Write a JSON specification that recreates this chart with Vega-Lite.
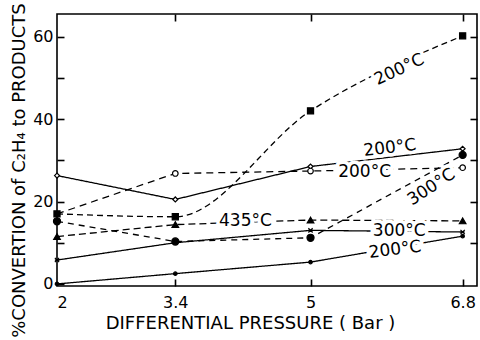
{
  "$schema": "https://vega.github.io/schema/vega-lite/v6.json",
  "width": 420,
  "height": 272,
  "autosize": {"type": "none"},
  "padding": {"left": 57, "top": 14, "right": 3, "bottom": 54},
  "config": {
    "view": {"stroke": "black", "strokeWidth": 1.6},
    "font": "DejaVu Sans"
  },
  "datasets": {
    "curves": [
      {"series": "200C dots", "P": 2, "C": 0},
      {"series": "200C dots", "P": 3.4, "C": 2.5},
      {"series": "200C dots", "P": 5, "C": 5.3},
      {"series": "200C dots", "P": 6.8, "C": 11.6},
      {"series": "300C stars", "P": 2, "C": 5.8},
      {"series": "300C stars", "P": 3.4, "C": 10},
      {"series": "300C stars", "P": 5, "C": 13},
      {"series": "300C stars", "P": 6.8, "C": 12.6},
      {"series": "200C diamonds", "P": 2, "C": 26.3},
      {"series": "200C diamonds", "P": 3.4, "C": 20.5},
      {"series": "200C diamonds", "P": 5, "C": 28.5},
      {"series": "200C diamonds", "P": 6.8, "C": 32.8},
      {"series": "200C circles", "P": 2, "C": 17},
      {"series": "200C circles", "P": 3.4, "C": 26.8},
      {"series": "200C circles", "P": 5, "C": 27.4},
      {"series": "200C circles", "P": 6.8, "C": 28.2},
      {"series": "200C squares", "P": 2, "C": 17},
      {"series": "200C squares", "P": 3.4, "C": 16.3},
      {"series": "200C squares", "P": 5, "C": 42},
      {"series": "200C squares", "P": 6.8, "C": 60.2},
      {"series": "435C triangles", "P": 2, "C": 11.5},
      {"series": "435C triangles", "P": 3.4, "C": 14.4},
      {"series": "435C triangles", "P": 5, "C": 15.5},
      {"series": "435C triangles", "P": 6.8, "C": 15.3},
      {"series": "300C filled", "P": 2, "C": 15.2},
      {"series": "300C filled", "P": 3.4, "C": 10.3},
      {"series": "300C filled", "P": 5, "C": 11.2},
      {"series": "300C filled", "P": 6.8, "C": 31.3}
    ],
    "labels": [
      {"series": "200C squares", "text": "200°C", "P": 6.05, "C": 52},
      {"series": "200C diamonds", "text": "200°C", "P": 5.94, "C": 33},
      {"series": "200C circles", "text": "200°C", "P": 5.64, "C": 27.2},
      {"series": "300C filled", "text": "300°C", "P": 6.43, "C": 23.5},
      {"series": "300C stars", "text": "300°C", "P": 6.05, "C": 12.9},
      {"series": "200C dots", "text": "200°C", "P": 6.0, "C": 8.3},
      {"series": "435C triangles", "text": "435°C", "P": 4.23, "C": 15.3}
    ]
  },
  "resolve": {"scale": {"x": "independent", "y": "independent"}, "axis": {"x": "independent", "y": "independent"}},
  "layer": [
    {
      "data": {"name": "curves"},
      "transform": [{"filter": "datum.series != '200C squares'"}],
      "mark": {"type": "line", "color": "black", "strokeWidth": 1.3},
      "encoding": {
        "x": {"field": "P", "type": "quantitative", "scale": {"domain": [2, 6.97], "nice": false, "zero": false},
              "axis": {"orient": "bottom", "values": [2, 3.4, 5, 6.8], "format": ".1~f", "domain": false, "grid": false, "ticks": false, "labelPadding": 8, "labelFont": "DejaVu Sans", "labelFontSize": 16, "labelColor": "black", "title": "DIFFERENTIAL PRESSURE ( Bar )", "titleFont": "DejaVu Sans", "titleFontSize": 18, "titleFontWeight": "normal", "titleColor": "black", "titlePadding": 4, "titleX": 193}},
        "y": {"field": "C", "type": "quantitative", "scale": {"domain": [-0.5, 65.5], "nice": false, "zero": false},
              "axis": {"orient": "left", "values": [0, 20, 40, 60], "domain": false, "grid": false, "ticks": false, "labelPadding": 4, "labelFont": "DejaVu Sans", "labelFontSize": 16, "labelColor": "black", "title": "%CONVERTION of C₂H₄ to PRODUCTS", "titleFont": "DejaVu Sans", "titleFontSize": 18, "titleFontWeight": "normal", "titleColor": "black", "titlePadding": 4, "titleY": 156}},
        "detail": {"field": "series"},
        "strokeDash": {"field": "series", "type": "nominal", "legend": null,
          "scale": {"domain": ["200C dots", "300C stars", "200C diamonds", "200C circles", "200C squares", "435C triangles", "300C filled"],
                    "range": [[1, 0], [1, 0], [1, 0], [7, 5], [6, 4], [7, 4], [6, 5]]}}
      }
    },
    {
      "data": {"name": "curves"},
      "transform": [{"filter": "datum.series == '200C squares'"}],
      "mark": {"type": "line", "interpolate": "monotone", "color": "black", "strokeWidth": 1.3, "strokeDash": [6, 4]},
      "encoding": {
        "x": {"field": "P", "type": "quantitative", "scale": {"domain": [2, 6.97], "nice": false, "zero": false}, "axis": null},
        "y": {"field": "C", "type": "quantitative", "scale": {"domain": [-0.5, 65.5], "nice": false, "zero": false}, "axis": null}
      }
    },
    {
      "data": {"name": "curves"},
      "transform": [{"filter": "!(datum.series == '200C circles' && datum.P == 2)"}],
      "mark": {"type": "point", "filled": true, "stroke": "black", "strokeWidth": 1.2, "opacity": 1},
      "encoding": {
        "x": {"field": "P", "type": "quantitative", "scale": {"domain": [2, 6.97], "nice": false, "zero": false},
              "axis": {"orient": "top", "offset": -272, "values": [3.4, 5, 6.8], "domainOpacity": 0, "gridOpacity": 0, "labelOpacity": 0, "tickSize": 7, "tickWidth": 1.6, "tickColor": "black", "title": null}},
        "y": {"field": "C", "type": "quantitative", "scale": {"domain": [-0.5, 65.5], "nice": false, "zero": false},
              "axis": {"orient": "right", "offset": -420, "values": [0, 10, 20, 30, 40, 50, 60], "domainOpacity": 0, "gridOpacity": 0, "labelOpacity": 0, "tickSize": 7, "tickWidth": 1.6, "tickColor": "black", "title": null}},
        "shape": {"field": "series", "type": "nominal", "legend": null,
          "scale": {"domain": ["200C dots", "300C stars", "200C diamonds", "200C circles", "200C squares", "435C triangles", "300C filled"],
                    "range": ["circle", "M-1,-1L1,1M1,-1L-1,1M-1,0L1,0", "diamond", "circle", "square", "triangle-up", "circle"]}},
        "fill": {"field": "series", "type": "nominal", "legend": null,
          "scale": {"domain": ["200C dots", "300C stars", "200C diamonds", "200C circles", "200C squares", "435C triangles", "300C filled"],
                    "range": ["black", "black", "white", "white", "black", "black", "black"]}},
        "size": {"field": "series", "type": "nominal", "legend": null,
          "scale": {"domain": ["200C dots", "300C stars", "200C diamonds", "200C circles", "200C squares", "435C triangles", "300C filled"],
                    "range": [12, 50, 35, 28, 14, 20, 28]}}
      }
    },
    {
      "data": {"name": "labels"},
      "transform": [{"filter": "datum.series == '200C squares'"}],
      "layer": [
        {"mark": {"type": "text", "angle": -25, "fontSize": 17, "stroke": "white", "strokeWidth": 7, "fill": "white"}},
        {"mark": {"type": "text", "angle": -25, "fontSize": 17, "fill": "black"}}
      ],
      "encoding": {
        "x": {"field": "P", "type": "quantitative", "scale": {"domain": [2, 6.97], "nice": false, "zero": false},
              "axis": {"orient": "bottom", "offset": -272, "values": [3.4, 5, 6.8], "domainOpacity": 0, "gridOpacity": 0, "labelOpacity": 0, "tickSize": 7, "tickWidth": 1.6, "tickColor": "black", "title": null}},
        "y": {"field": "C", "type": "quantitative", "scale": {"domain": [-0.5, 65.5], "nice": false, "zero": false},
              "axis": {"orient": "left", "offset": -420, "values": [10, 20, 30, 40, 50, 60], "domainOpacity": 0, "gridOpacity": 0, "labelOpacity": 0, "tickSize": 7, "tickWidth": 1.6, "tickColor": "black", "title": null}},
        "text": {"field": "text"}
      }
    },
    {
      "data": {"name": "labels"},
      "transform": [{"filter": "datum.series == '300C filled'"}],
      "layer": [
        {"mark": {"type": "text", "angle": -33, "fontSize": 17, "stroke": "white", "strokeWidth": 7, "fill": "white"}},
        {"mark": {"type": "text", "angle": -33, "fontSize": 17, "fill": "black"}}
      ],
      "encoding": {
        "x": {"field": "P", "type": "quantitative", "scale": {"domain": [2, 6.97], "nice": false, "zero": false}, "axis": null},
        "y": {"field": "C", "type": "quantitative", "scale": {"domain": [-0.5, 65.5], "nice": false, "zero": false}, "axis": null},
        "text": {"field": "text"}
      }
    },
    {
      "data": {"name": "labels"},
      "transform": [{"filter": "datum.series == '200C dots' || datum.series == '200C diamonds'"}],
      "layer": [
        {"mark": {"type": "text", "angle": -7, "fontSize": 17, "stroke": "white", "strokeWidth": 7, "fill": "white"}},
        {"mark": {"type": "text", "angle": -7, "fontSize": 17, "fill": "black"}}
      ],
      "encoding": {
        "x": {"field": "P", "type": "quantitative", "scale": {"domain": [2, 6.97], "nice": false, "zero": false}, "axis": null},
        "y": {"field": "C", "type": "quantitative", "scale": {"domain": [-0.5, 65.5], "nice": false, "zero": false}, "axis": null},
        "text": {"field": "text"}
      }
    },
    {
      "data": {"name": "labels"},
      "transform": [{"filter": "datum.series == '200C circles' || datum.series == '300C stars' || datum.series == '435C triangles'"}],
      "layer": [
        {"mark": {"type": "text", "angle": 0, "fontSize": 17, "stroke": "white", "strokeWidth": 7, "fill": "white"}},
        {"mark": {"type": "text", "angle": 0, "fontSize": 17, "fill": "black"}}
      ],
      "encoding": {
        "x": {"field": "P", "type": "quantitative", "scale": {"domain": [2, 6.97], "nice": false, "zero": false}, "axis": null},
        "y": {"field": "C", "type": "quantitative", "scale": {"domain": [-0.5, 65.5], "nice": false, "zero": false}, "axis": null},
        "text": {"field": "text"}
      }
    }
  ]
}
